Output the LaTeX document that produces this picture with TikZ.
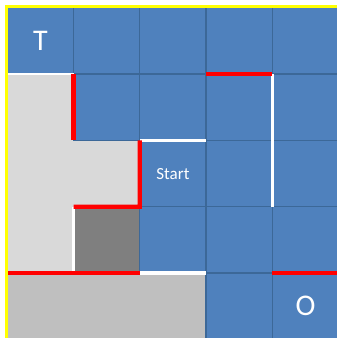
\documentclass[tikz,border=0pt]{standalone}
\usepackage{fontspec}
\setmainfont{Carlito}
\definecolor{cellblue}{HTML}{4F81BD}
\definecolor{gridblue}{HTML}{3C6898}
\definecolor{lightcell}{HTML}{D9D9D9}
\definecolor{darkcell}{HTML}{7F7F7F}
\definecolor{midcell}{HTML}{BFBFBF}
\definecolor{wallred}{HTML}{FF0000}
\definecolor{frameyellow}{HTML}{FFFF00}
\begin{document}
\begin{tikzpicture}[x=1pt,y=-1pt,
  cellbase/.style={rectangle, minimum width=66.3pt, minimum height=66.3pt, inner sep=0pt, outer sep=0pt, text=white},
  bluecell/.style={cellbase, fill=cellblue, draw=gridblue, line width=1.3pt},
  lightbox/.style={cellbase, fill=lightcell},
  darkbox/.style={cellbase, fill=darkcell},
  midbox/.style={cellbase, fill=midcell},
  redwall/.style={draw=wallred, line width=4.3pt},
  whitewall/.style={draw=white, line width=3.5pt},
  bigtext/.style={font=\fontsize{30}{36}\selectfont},
  smalltext/.style={font=\fontsize{17}{20}\selectfont}]
\useasboundingbox (0,0) rectangle (337,338);
\clip (0,0) rectangle (337,338);
\fill[white] (0,0) rectangle (337,338);
% gray cells
\foreach \r/\c/\s in {1/0/lightbox, 2/0/lightbox, 2/1/lightbox, 3/0/lightbox, 3/1/darkbox, 4/0/midbox, 4/1/midbox, 4/2/midbox}
  \node[\s] (c\r\c) at ({40.35+66.3*\c},{40.95+66.3*\r}) {};
% blue cells
\foreach \r/\c in {0/1, 0/2, 0/3, 0/4, 1/1, 1/2, 1/3, 1/4, 2/3, 2/4, 3/2, 3/3, 3/4, 4/3}
  \node[bluecell] (c\r\c) at ({40.35+66.3*\c},{40.95+66.3*\r}) {};
\node[bluecell, bigtext] (c00) at (40.35,40.95) {T};
\node[bluecell, smalltext] (c22) at ({40.35+66.3*2},{40.95+66.3*2}) {Start};
\node[bluecell, bigtext] (c44) at ({40.35+66.3*4},{40.95+66.3*4}) {O};
% walls
\draw[draw=white, line width=2.5pt] (c10.north west) -- (c10.north east);
\draw[whitewall] (c22.north west) -- (c22.north east);
\draw[whitewall] (c13.north east) -- (c23.south east);
\draw[whitewall] (c31.north west) -- (c31.south west);
\draw[whitewall] (c42.north west) -- (c42.north east);
\draw[redwall] (c11.north west) -- (c11.south west);
\draw[redwall] (c22.north west) -- (c22.south west) -- (c31.north west);
\draw[redwall] (c13.north west) -- (c13.north east);
\draw[redwall] (c40.north west) -- (c41.north east);
\draw[redwall] (c44.north west) -- (c44.north east);
% frame
\draw[draw=frameyellow, line width=3pt] (6.4,338) -- (6.4,6.9) -- (337,6.9);
\end{tikzpicture}
\end{document}
